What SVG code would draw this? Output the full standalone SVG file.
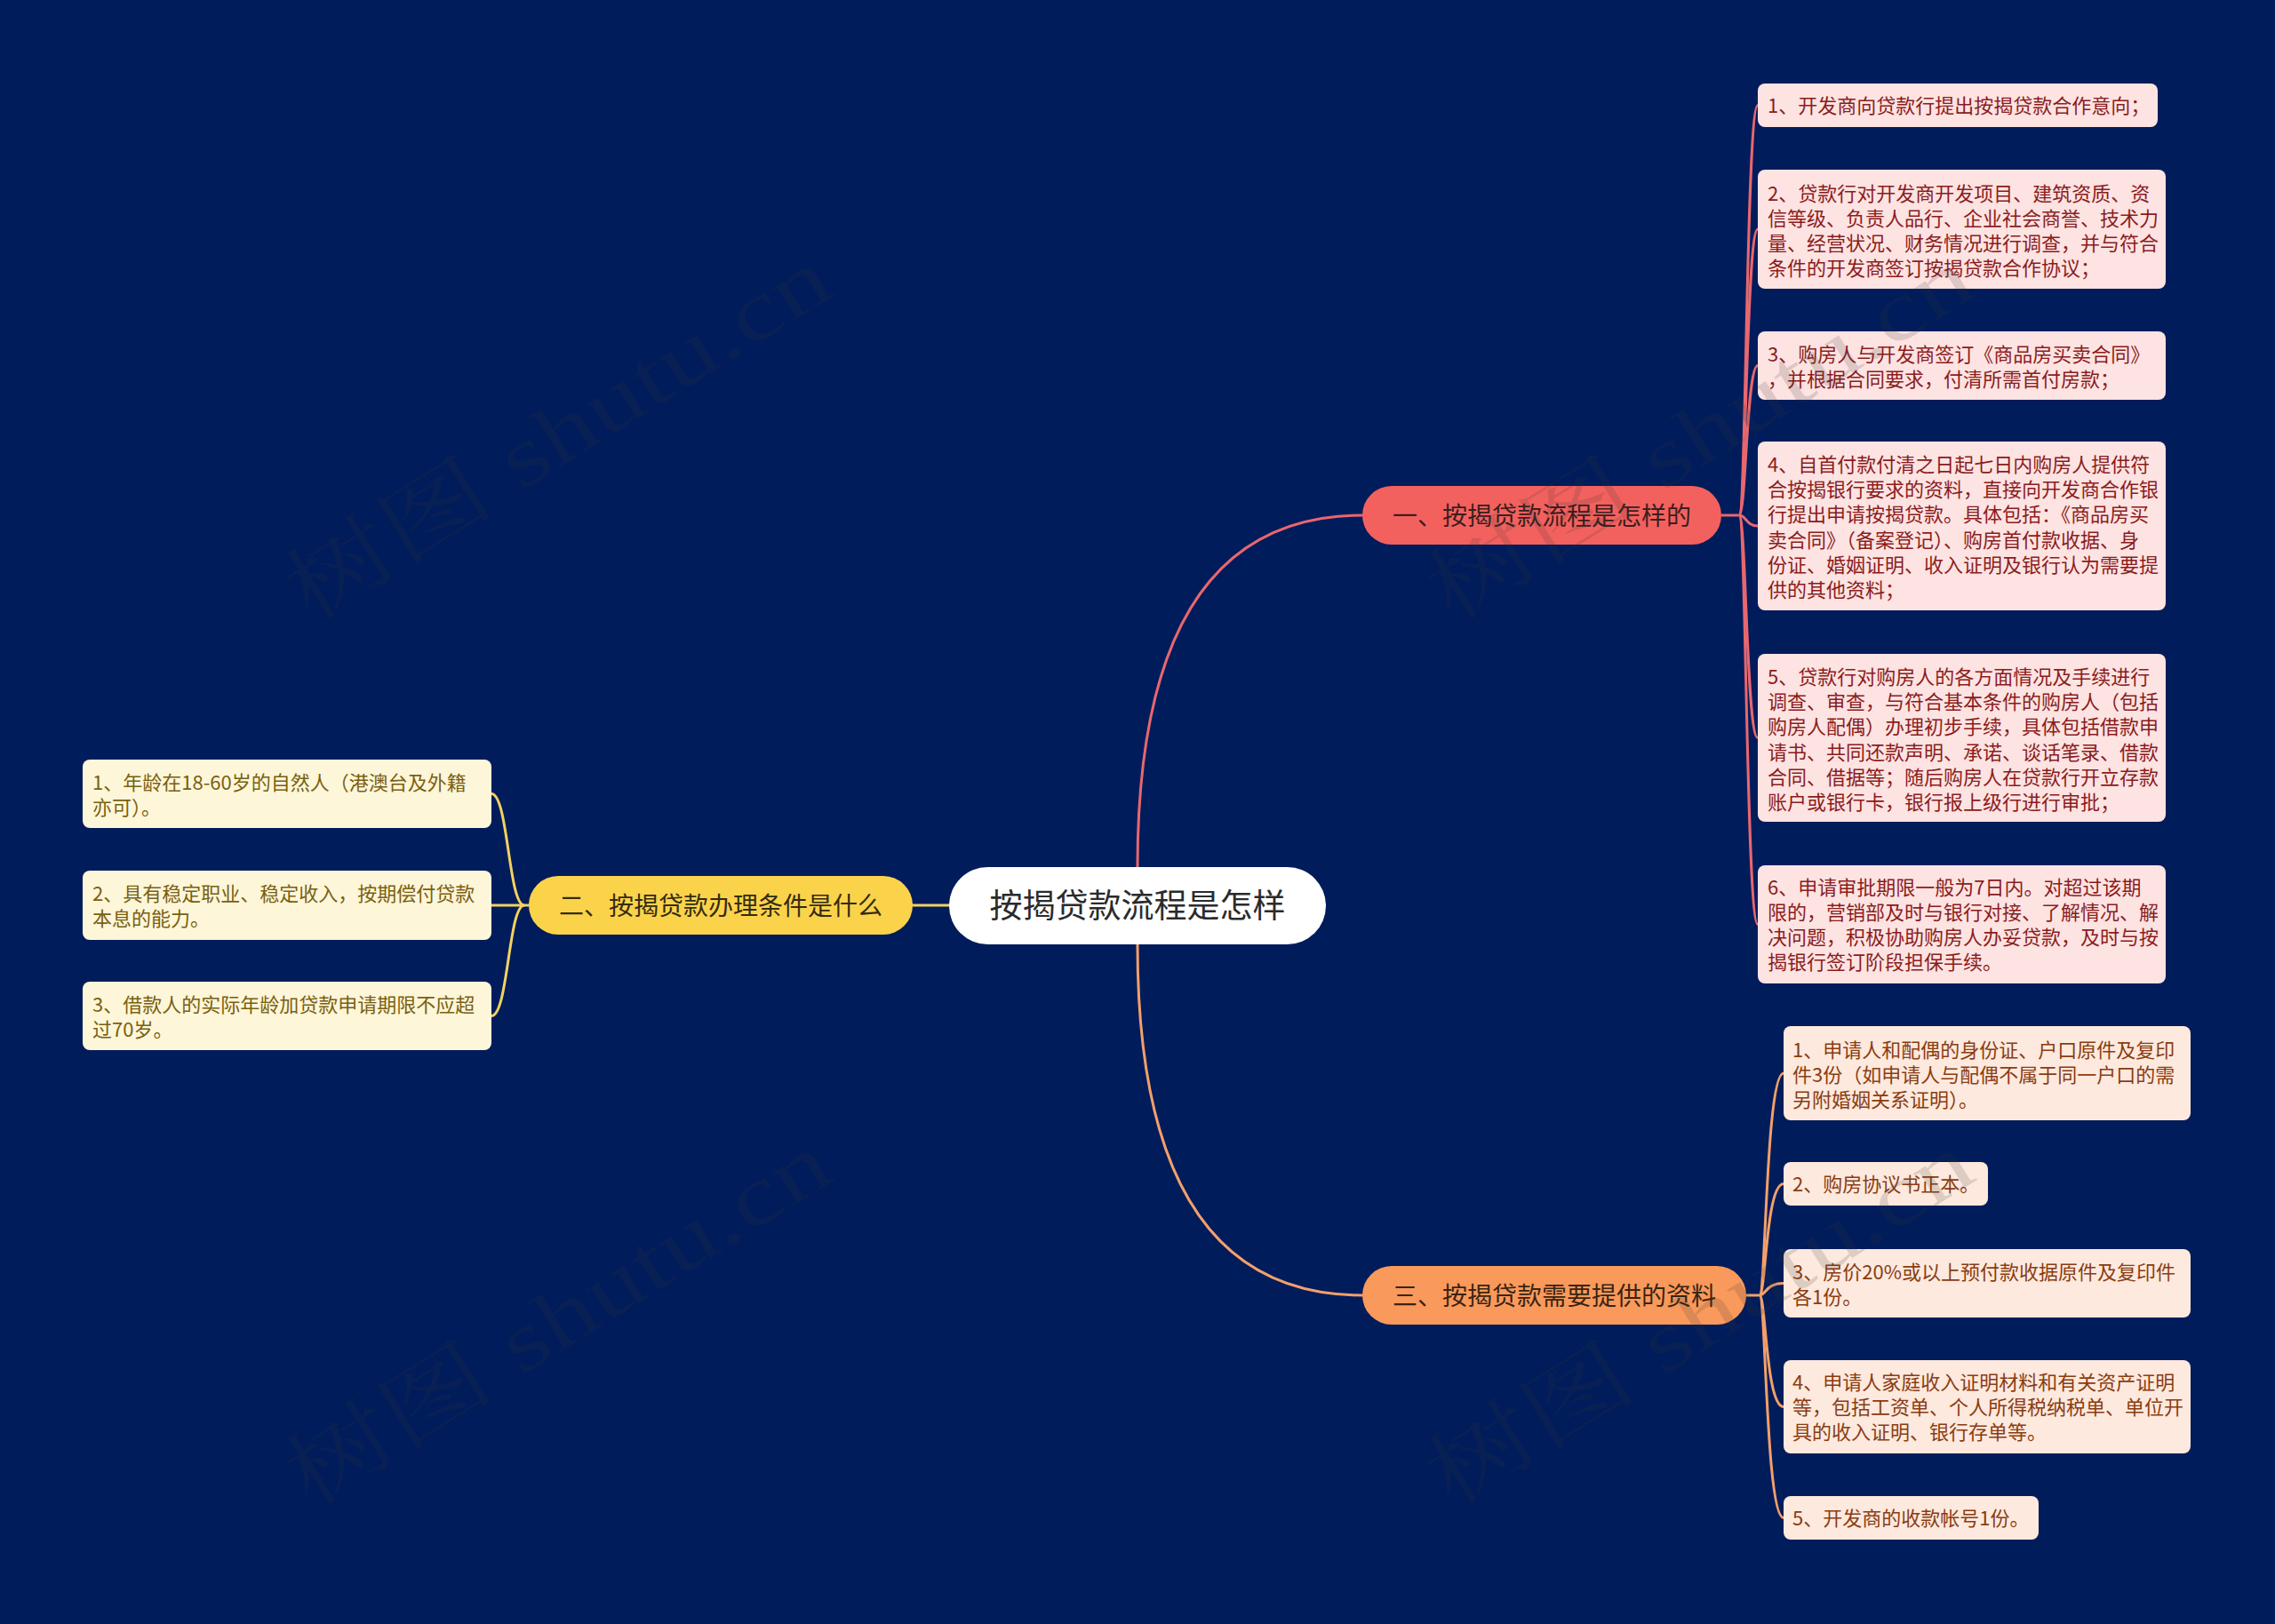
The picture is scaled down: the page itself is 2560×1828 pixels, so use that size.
<svg xmlns="http://www.w3.org/2000/svg" width="2560" height="1828" viewBox="0 0 2560 1828">
<style>
text{font-family:"Noto Sans CJK SC","Noto Sans",sans-serif;}
.lp{fill:#fde3e2}.lc{fill:#fdf6d9}.lo{fill:#fde9dd}
.tp{font-size:22px;fill:#8b1c1c}.tc{font-size:22px;fill:#7a5f10}.to{font-size:22px;fill:#8a3c12}
.br{font-size:28px;text-anchor:middle}
.cr{fill:none;stroke:#e8676e;stroke-width:3}
.cy{fill:none;stroke:#f2d260;stroke-width:3}
.co{fill:none;stroke:#f3a06a;stroke-width:3}
.wm{font-family:"Liberation Serif","Noto Serif CJK SC","Noto Sans CJK SC",serif;font-size:96px;fill:#3a3a3a;fill-opacity:0.16}
</style>
<rect width="2560" height="1828" fill="#011c5b"/>
<g id="connectors">
<path class="cr" d="M1280,976 Q1280,580 1533,580"/>
<path class="cy" d="M1068,1019 L1027,1019"/>
<path class="co" d="M1280,1063 Q1280,1458 1533,1458"/>
<path class="cr" d="M1937,580 L1957,580"/>
<path class="cr" d="M1957,580 C1965,580 1965,118.5 1978,118.5"/>
<path class="cr" d="M1957,580 C1965,580 1965,258 1978,258"/>
<path class="cr" d="M1957,580 C1965,580 1965,411.5 1978,411.5"/>
<path class="cr" d="M1957,580 C1965,580 1965,592 1978,592"/>
<path class="cr" d="M1957,580 C1965,580 1965,830.5 1978,830.5"/>
<path class="cr" d="M1957,580 C1965,580 1965,1040.5 1978,1040.5"/>
<path class="co" d="M1965,1458 L1980,1458"/>
<path class="co" d="M1980,1458 C1987,1458 1987,1208 2007,1208"/>
<path class="co" d="M1980,1458 C1987,1458 1987,1332.5 2007,1332.5"/>
<path class="co" d="M1980,1458 C1987,1458 1987,1444.5 2007,1444.5"/>
<path class="co" d="M1980,1458 C1987,1458 1987,1583.5 2007,1583.5"/>
<path class="co" d="M1980,1458 C1987,1458 1987,1708.5 2007,1708.5"/>
<path class="cy" d="M595,1019 L590,1019"/>
<path class="cy" d="M590,1019 C572,1019 572,893.5 553,893.5"/>
<path class="cy" d="M590,1019 L553,1019"/>
<path class="cy" d="M590,1019 C572,1019 572,1143.5 553,1143.5"/>
</g>
<g id="root">
<rect x="1068" y="976" width="424" height="87" rx="43.5" fill="#ffffff"/>
<text x="1280" y="1033" font-size="37" text-anchor="middle" fill="#2b2b2b">按揭贷款流程是怎样</text>
</g>
<g id="branch1">
<rect x="1533" y="547" width="404" height="66" rx="33" fill="#f3615e"/>
<text class="br" x="1735" y="591" fill="#3b1e1e">一、按揭贷款流程是怎样的</text>
</g>
<g id="branch2">
<rect x="595" y="986" width="432" height="66" rx="33" fill="#fad34b"/>
<text class="br" x="811" y="1030" fill="#352b10">二、按揭贷款办理条件是什么</text>
</g>
<g id="branch3">
<rect x="1533" y="1425" width="432" height="66" rx="33" fill="#f9995b"/>
<text class="br" x="1749" y="1469" fill="#3a2412">三、按揭贷款需要提供的资料</text>
</g>
<g id="b1-leaf1">
<rect class="lp" x="1978" y="94" width="450" height="49" rx="8"/>
<text class="tp" x="1989" y="127">1、开发商向贷款行提出按揭贷款合作意向；</text>
</g>
<g id="b1-leaf2">
<rect class="lp" x="1978" y="191" width="459" height="134" rx="8"/>
<text class="tp"><tspan x="1989" y="226">2、贷款行对开发商开发项目、建筑资质、资</tspan><tspan x="1989" y="254">信等级、负责人品行、企业社会商誉、技术力</tspan><tspan x="1989" y="282">量、经营状况、财务情况进行调查，并与符合</tspan><tspan x="1989" y="310">条件的开发商签订按揭贷款合作协议；</tspan></text>
</g>
<g id="b1-leaf3">
<rect class="lp" x="1978" y="373" width="459" height="77" rx="8"/>
<text class="tp"><tspan x="1989" y="407">3、购房人与开发商签订《商品房买卖合同》</tspan><tspan x="1989" y="435">，并根据合同要求，付清所需首付房款；</tspan></text>
</g>
<g id="b1-leaf4">
<rect class="lp" x="1978" y="497" width="459" height="190" rx="8"/>
<text class="tp"><tspan x="1989" y="531">4、自首付款付清之日起七日内购房人提供符</tspan><tspan x="1989" y="559">合按揭银行要求的资料，直接向开发商合作银</tspan><tspan x="1989" y="587">行提出申请按揭贷款。具体包括：《商品房买</tspan><tspan x="1989" y="616">卖合同》（备案登记）、购房首付款收据、身</tspan><tspan x="1989" y="644">份证、婚姻证明、收入证明及银行认为需要提</tspan><tspan x="1989" y="672">供的其他资料；</tspan></text>
</g>
<g id="b1-leaf5">
<rect class="lp" x="1978" y="736" width="459" height="189" rx="8"/>
<text class="tp"><tspan x="1989" y="770">5、贷款行对购房人的各方面情况及手续进行</tspan><tspan x="1989" y="798">调查、审查，与符合基本条件的购房人（包括</tspan><tspan x="1989" y="826">购房人配偶）办理初步手续，具体包括借款申</tspan><tspan x="1989" y="855">请书、共同还款声明、承诺、谈话笔录、借款</tspan><tspan x="1989" y="883">合同、借据等；随后购房人在贷款行开立存款</tspan><tspan x="1989" y="911">账户或银行卡，银行报上级行进行审批；</tspan></text>
</g>
<g id="b1-leaf6">
<rect class="lp" x="1978" y="974" width="459" height="133" rx="8"/>
<text class="tp"><tspan x="1989" y="1007">6、申请审批期限一般为7日内。对超过该期</tspan><tspan x="1989" y="1035">限的，营销部及时与银行对接、了解情况、解</tspan><tspan x="1989" y="1063">决问题，积极协助购房人办妥贷款，及时与按</tspan><tspan x="1989" y="1091">揭银行签订阶段担保手续。</tspan></text>
</g>
<g id="b2-leaf1">
<rect class="lc" x="93" y="855" width="460" height="77" rx="8"/>
<text class="tc"><tspan x="104" y="889">1、年龄在18-60岁的自然人（港澳台及外籍</tspan><tspan x="104" y="917">亦可）。</tspan></text>
</g>
<g id="b2-leaf2">
<rect class="lc" x="93" y="980" width="460" height="78" rx="8"/>
<text class="tc"><tspan x="104" y="1014">2、具有稳定职业、稳定收入，按期偿付贷款</tspan><tspan x="104" y="1042">本息的能力。</tspan></text>
</g>
<g id="b2-leaf3">
<rect class="lc" x="93" y="1105" width="460" height="77" rx="8"/>
<text class="tc"><tspan x="104" y="1139">3、借款人的实际年龄加贷款申请期限不应超</tspan><tspan x="104" y="1167">过70岁。</tspan></text>
</g>
<g id="b3-leaf1">
<rect class="lo" x="2007" y="1155" width="458" height="106" rx="8"/>
<text class="to"><tspan x="2017" y="1190">1、申请人和配偶的身份证、户口原件及复印</tspan><tspan x="2017" y="1218">件3份（如申请人与配偶不属于同一户口的需</tspan><tspan x="2017" y="1246">另附婚姻关系证明）。</tspan></text>
</g>
<g id="b3-leaf2">
<rect class="lo" x="2007" y="1308" width="230" height="49" rx="8"/>
<text class="to" x="2017" y="1341">2、购房协议书正本。</text>
</g>
<g id="b3-leaf3">
<rect class="lo" x="2007" y="1406" width="458" height="77" rx="8"/>
<text class="to"><tspan x="2017" y="1440">3、房价20%或以上预付款收据原件及复印件</tspan><tspan x="2017" y="1468">各1份。</tspan></text>
</g>
<g id="b3-leaf4">
<rect class="lo" x="2007" y="1531" width="458" height="105" rx="8"/>
<text class="to"><tspan x="2017" y="1564">4、申请人家庭收入证明材料和有关资产证明</tspan><tspan x="2017" y="1592">等，包括工资单、个人所得税纳税单、单位开</tspan><tspan x="2017" y="1620">具的收入证明、银行存单等。</tspan></text>
</g>
<g id="b3-leaf5">
<rect class="lo" x="2007" y="1684" width="287" height="49" rx="8"/>
<text class="to" x="2017" y="1717">5、开发商的收款帐号1份。</text>
</g>
<g id="watermarks">
<text class="wm" transform="translate(348,702) rotate(-32)" textLength="700" lengthAdjust="spacingAndGlyphs">树图 shutu.cn</text>
<text class="wm" transform="translate(1633,702) rotate(-32)" textLength="700" lengthAdjust="spacingAndGlyphs">树图 shutu.cn</text>
<text class="wm" transform="translate(348,1698) rotate(-32)" textLength="700" lengthAdjust="spacingAndGlyphs">树图 shutu.cn</text>
<text class="wm" transform="translate(1633,1698) rotate(-32)" textLength="700" lengthAdjust="spacingAndGlyphs">树图 shutu.cn</text>
</g>
</svg>
